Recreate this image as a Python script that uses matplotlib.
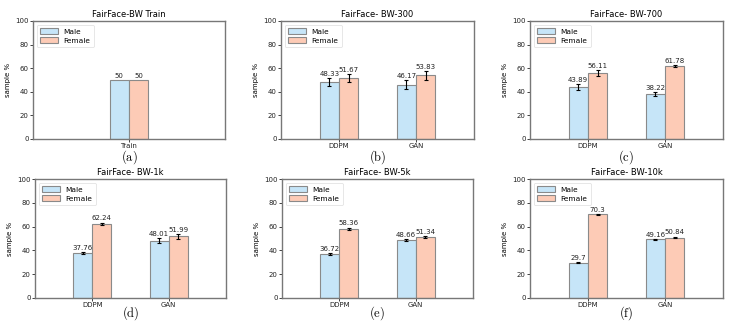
import matplotlib
matplotlib.use("Agg")
import matplotlib.pyplot as plt
import numpy as np

titles = ["FairFace-BW Train", "FairFace- BW-300", "FairFace- BW-700",
          "FairFace- BW-1k", "FairFace- BW-5k", "FairFace- BW-10k"]
captions = ["(a)", "(b)", "(c)", "(d)", "(e)", "(f)"]
train_cats = ["Train"]
gen_cats = ["DDPM", "GAN"]

male_vals = [[50], [48.33, 46.17], [43.89, 38.22], [37.76, 48.01], [36.72, 48.66], [29.7, 49.16]]
female_vals = [[50], [51.67, 53.83], [56.11, 61.78], [62.24, 51.99], [58.36, 51.34], [70.3, 50.84]]
male_err = [None, [3.0, 3.5], [2.5, 1.5], [1.0, 2.0], [0.8, 0.5], [0.6, 0.6]]
female_err = [None, [3.0, 3.5], [2.5, 1.0], [1.2, 2.0], [0.8, 0.5], [0.5, 0.8]]
male_labels = [["50"], ["48.33", "46.17"], ["43.89", "38.22"], ["37.76", "48.01"], ["36.72", "48.66"], ["29.7", "49.16"]]
female_labels = [["50"], ["51.67", "53.83"], ["56.11", "61.78"], ["62.24", "51.99"], ["58.36", "51.34"], ["70.3", "50.84"]]

W, H = 747, 321
fig = plt.figure(figsize=(W / 100, H / 100), dpi=100)
plt.rcParams["mathtext.fontset"] = "cm"

# pixel boxes (left, top, right, bottom)
boxes = [(33, 21, 225, 139), (281, 21, 474, 139), (530, 21, 723, 139),
         (35, 179, 226, 298), (282, 179, 473, 298), (530, 179, 723, 298)]
cap_y = [157.5, 157.5, 157.5, 313, 313, 313]

blue = "#c6e5f8"
salmon = "#fdcbb6"
edge = "#8a8a8a"
spine = "#777777"
w = 0.25

for i in range(6):
    l, t, r, b = boxes[i]
    ax = fig.add_axes([l / W, 1 - b / H, (r - l) / W, (b - t) / H])
    cats = train_cats if i == 0 else gen_cats
    x = np.arange(len(cats))
    ek = dict(ecolor="black", capsize=1.6, elinewidth=0.8, capthick=0.8)
    ax.bar(x - w / 2, male_vals[i], w, color=blue, edgecolor=edge, linewidth=0.8,
           label="Male", yerr=male_err[i], error_kw=ek)
    ax.bar(x + w / 2, female_vals[i], w, color=salmon, edgecolor=edge, linewidth=0.8,
           label="Female", yerr=female_err[i], error_kw=ek)
    for j in range(len(cats)):
        me = male_err[i][j] if male_err[i] else 0
        fe = female_err[i][j] if female_err[i] else 0
        ax.text(x[j] - w / 2, male_vals[i][j] + me + 1.0, male_labels[i][j],
                ha="center", va="bottom", fontsize=5, color="#222222")
        ax.text(x[j] + w / 2, female_vals[i][j] + fe + 1.0, female_labels[i][j],
                ha="center", va="bottom", fontsize=5, color="#222222")
    if i == 0:
        ax.set_xlim(-1.25, 1.25)
    else:
        ax.set_xlim(-0.75, 1.75)
    ax.set_ylim(0, 100)
    ax.set_xticks(x)
    ax.set_xticklabels(cats)
    ax.set_yticks([0, 20, 40, 60, 80, 100])
    ax.tick_params(labelsize=5, length=2, width=0.6, pad=1.2, colors="#222222")
    ax.set_ylabel("sample %", fontsize=5, labelpad=3)
    ax.set_title(titles[i], fontsize=6, pad=3)
    for s in ax.spines.values():
        s.set_color(spine)
        s.set_linewidth(1.0)
    leg = ax.legend(loc="upper left", fontsize=5.3, handlelength=2.4, handleheight=0.9,
                    borderpad=0.45, labelspacing=0.35, framealpha=1, edgecolor="#dddddd")
    leg.get_frame().set_linewidth(0.5)
    fig.text((l + r) / 2 / W, 1 - cap_y[i] / H, "$\\mathrm{" + captions[i] + "}$",
             ha="center", va="center", fontsize=9)

fig.savefig("out.png", dpi=100)
